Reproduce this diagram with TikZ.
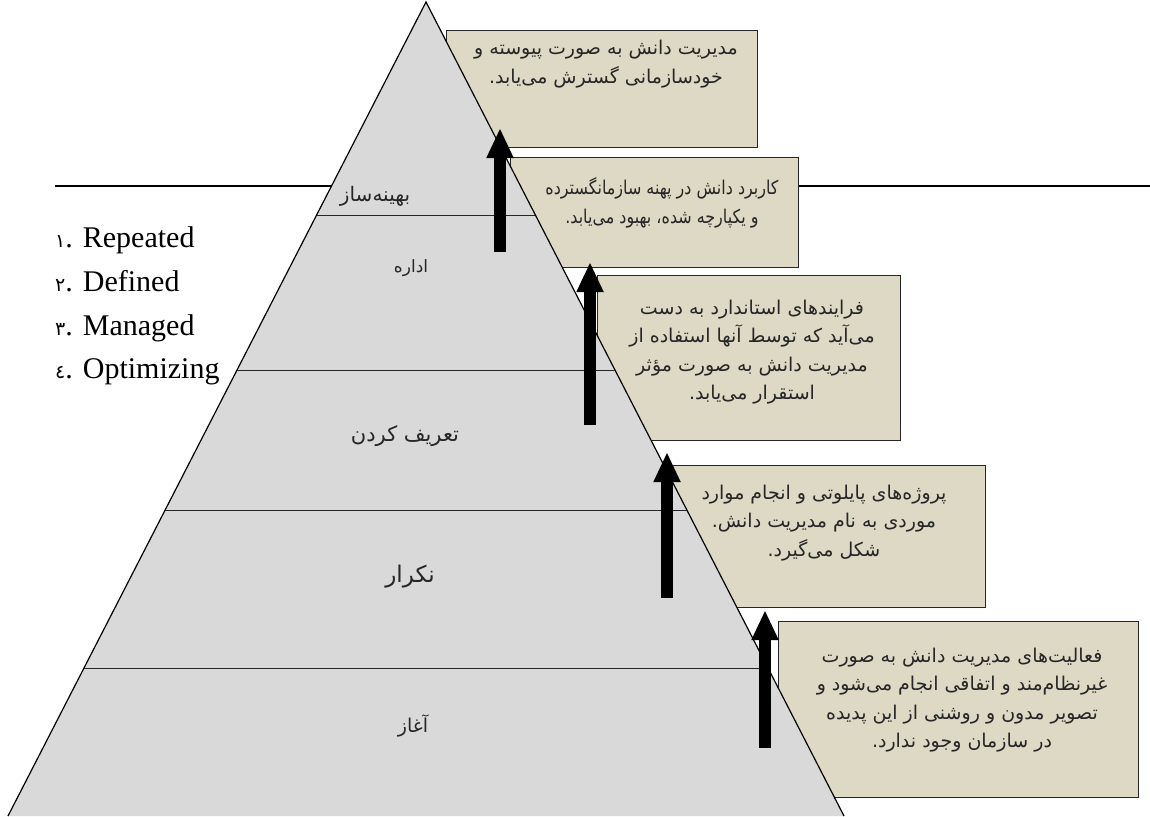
\documentclass[tikz,border=0pt]{standalone}
\usepackage{fontspec}
\setmainfont{Liberation Serif}
\newfontfamily\arabicfont[Script=Arabic]{DejaVu Sans}
\newfontfamily\arabicnarrow[Script=Arabic,FakeStretch=0.84]{DejaVu Sans}
\TeXXeTstate=1
\usetikzlibrary{calc,arrows.meta}
\definecolor{pyrfill}{HTML}{D9D9D9}
\definecolor{boxfill}{HTML}{DDD9C4}
\tikzset{
  kbox/.style={draw=black!85, line width=1.1pt, fill=boxfill, anchor=north west, inner sep=0pt},
  btext/.style={font=\arabicfont\fontsize{19}{28.5}\selectfont, align=center, inner sep=0pt, text=black!85},
  lvl/.style={inner sep=0pt, text=black!85},
  band/.style={line width=1pt, black!85},
  uparrow/.style={line width=12pt, -{Triangle[length=30pt,width=25pt]}},
  item/.style={font=\fontsize{30}{30}\selectfont, anchor=base west, inner sep=0pt}
}
\newcommand\numfa[1]{{\arabicfont\fontsize{19}{19}\selectfont #1}}
\begin{document}
\begin{tikzpicture}[x=1pt,y=-1pt]
\useasboundingbox (0,0) rectangle (1150,816);

% long horizontal rule behind everything
\coordinate (hl) at (55,186);
\coordinate (hr) at (1150,186);
\draw[line width=1.2pt] (hl) -- (hr);

% description boxes
\node[kbox, minimum width=311pt, minimum height=117pt] (b1) at (446,30) {};
\node[kbox, minimum width=288pt, minimum height=110pt] (b2) at (510,157) {};
\node[kbox, minimum width=303pt, minimum height=165pt] (b3) at (597,275) {};
\node[kbox, minimum width=313pt, minimum height=142pt] (b4) at (672,465) {};
\node[kbox, minimum width=360pt, minimum height=176pt] (b5) at (778,621) {};

% pyramid
\coordinate (A) at (426,2);
\coordinate (L) at (8,816);
\coordinate (R) at (844,816);
\fill[pyrfill] (A) -- (L) -- (R) -- cycle;
\draw[line width=1.2pt] (L) -- (A) -- (R);

% level separators
\foreach \t/\n in {0.2617/s1, 0.4521/s2, 0.6241/s3, 0.8182/s4}{
  \coordinate (\n l) at ($(A)!\t!(L)$);
  \coordinate (\n r) at ($(A)!\t!(R)$);
  \draw[band] (\n l) -- (\n r);
}

% level names
\node[lvl, font=\arabicfont\fontsize{20}{20}\selectfont] (l5) at (375,196) {\beginR بهینه‌ساز\endR};
\node[lvl, font=\arabicfont\fontsize{17}{17}\selectfont] (l4) at (411,268) {\beginR اداره\endR};
\node[lvl, font=\arabicfont\fontsize{21}{21}\selectfont] (l3) at (405,436) {\beginR تعریف کردن\endR};
\node[lvl, font=\arabicfont\fontsize{23}{23}\selectfont] (l2) at (410,577) {\beginR نکرار\endR};
\node[lvl, font=\arabicfont\fontsize{19}{19}\selectfont] (l1) at (413,726) {\beginR آغاز\endR};

% numbered list
\node[item] (i1) at (55,247) {\numfa{١}. Repeated};
\node[item] (i2) at (55,291) {\numfa{٢}. Defined};
\node[item] (i3) at (55,335) {\numfa{٣}. Managed};
\node[item] (i4) at (55,378) {\numfa{٤}. Optimizing};

% box texts
\node[btext] (t1) at (606,64) {\beginR مدیریت دانش به صورت پیوسته و\endR\\\beginR خودسازمانی گسترش می‌یابد.\endR};
\node[btext, font=\arabicnarrow\fontsize{19}{28.5}\selectfont] (t2) at (662,203) {\beginR کاربرد دانش در پهنه سازمانگسترده\endR\\\beginR و یکپارچه شده، بهبود می‌یابد.\endR};
\node[btext] (t3) at (752,352) {\beginR فرایندهای استاندارد به دست\endR\\\beginR می‌آید که توسط آنها استفاده از\endR\\\beginR مدیریت دانش به صورت مؤثر\endR\\\beginR استقرار می‌یابد.\endR};
\node[btext] (t4) at (824,523) {\beginR پروژه‌های پایلوتی و انجام موارد\endR\\\beginR موردی به نام مدیریت دانش.\endR\\\beginR شکل می‌گیرد.\endR};
\node[btext] (t5) at (962,700) {\beginR فعالیت‌های مدیریت دانش به صورت\endR\\\beginR غیرنظام‌مند و اتفاقی انجام می‌شود و\endR\\\beginR تصویر مدون و روشنی از این پدیده\endR\\\beginR در سازمان وجود ندارد.\endR};

% progression arrows
\coordinate (a1s) at (500,252); \coordinate (a1e) at (500,128);
\coordinate (a2s) at (590,425); \coordinate (a2e) at (590,262);
\coordinate (a3s) at (667,598); \coordinate (a3e) at (667,452);
\coordinate (a4s) at (765,748); \coordinate (a4e) at (765,610);
\draw[uparrow] (a1s) -- (a1e);
\draw[uparrow] (a2s) -- (a2e);
\draw[uparrow] (a3s) -- (a3e);
\draw[uparrow] (a4s) -- (a4e);
\end{tikzpicture}
\end{document}
